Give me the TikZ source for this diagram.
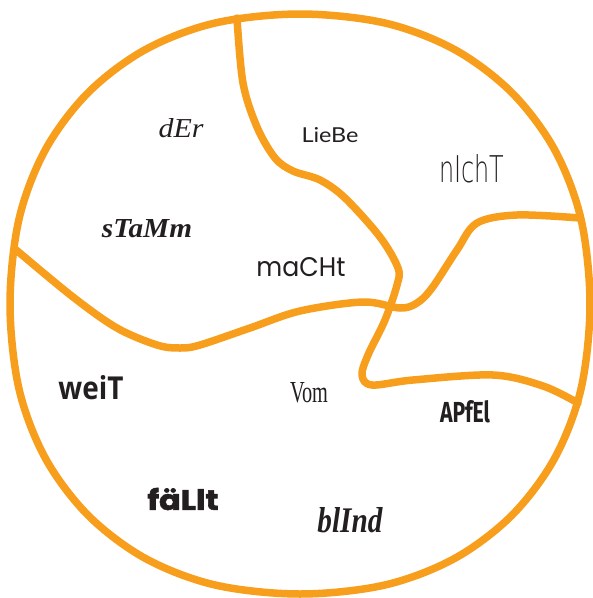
\documentclass[tikz,border=0pt]{standalone}
\usepackage{fontspec}
\usepackage{graphicx}
\setmainfont{Liberation Serif}
\newfontfamily\libserif{Liberation Serif}
\newfontfamily\opensans{Open Sans}
\newfontfamily\firasans{Fira Sans}
\newfontfamily\poppins{Poppins}
\newfontfamily\poppinsheavy{Poppins}[FakeBold=2]
\newfontfamily\lato{Lato}
\newfontfamily\thinsans{DejaVu Sans ExtraLight}
\definecolor{orng}{RGB}{247,158,29}
\definecolor{ink}{RGB}{35,31,32}
\tikzset{
  border/.style={draw=orng, line width=7.5pt, line join=round, line cap=round},
  word/.style={inner sep=0pt, text=ink}
}
\begin{document}
\begin{tikzpicture}[x=1pt,y=-1pt]
\useasboundingbox (0,0) rectangle (593,598);
% hand-drawn round outline
\draw[border] plot[smooth cycle, tension=0.55] coordinates {
  (590,304) (581,389) (554.5,458.5) (511.6,515.6) (454.5,558.5) (384.9,585)
  (300,594) (215.1,585) (145.5,558.5) (88.4,515.6) (45.5,458.5) (19,388.9)
  (10,304) (19,219.1) (45.5,149.5) (88.4,92.4) (145.5,49.5) (215.1,23)
  (300,14) (384.9,23) (454.5,49.5) (511.6,92.4) (554.5,149.5) (581,219.1)};
% dividing curves
\draw[border] plot[smooth, tension=0.55] coordinates {
  (237,18) (243,83) (257,127) (275,158) (293,171) (320,180) (345,198)
  (380,237) (398,268) (397,285) (385,320) (368,355) (362,375) (372,385)
  (413,380) (493,375) (543,386) (578,403)};
\draw[border] plot[smooth, tension=0.55] coordinates {
  (15,249) (73,297) (117,328) (157,345) (180,348) (200,345) (250,328)
  (300,311) (363,302) (400,308) (417,303) (432,288) (457,250) (477,223)
  (517,215) (580,218)};
% words
\node[word] (der)   at (181,128) {\resizebox{45pt}{19pt}{\libserif\itshape dEr}};
\node[word] (stamm) at (147,229) {\resizebox{90pt}{18pt}{\libserif\bfseries\itshape sTaMm}};
\node[word] (liebe) at (330,135) {\resizebox{57pt}{15pt}{\lato LieBe}};
\node[word] (nicht) at (472,169) {\resizebox{65pt}{28pt}{\thinsans nIchT}};
\node[word] (macht) at (301,267) {\resizebox{89pt}{19pt}{\poppins maCHt}};
\node[word] (weit)  at (91,388)  {\resizebox{65pt}{24pt}{\opensans\bfseries weiT}};
\node[word] (vom)   at (309,393) {\resizebox{38pt}{20pt}{\libserif Vom}};
\node[word] (apfel) at (465,412) {\resizebox{50pt}{22pt}{\firasans\bfseries APfEl}};
\node[word] (faellt) at (183,499) {\resizebox{71pt}{22pt}{\poppinsheavy\bfseries fäLlt}};
\node[word] (blind) at (350,520) {\resizebox{65pt}{25pt}{\libserif\bfseries\itshape blInd}};
\end{tikzpicture}
\end{document}
